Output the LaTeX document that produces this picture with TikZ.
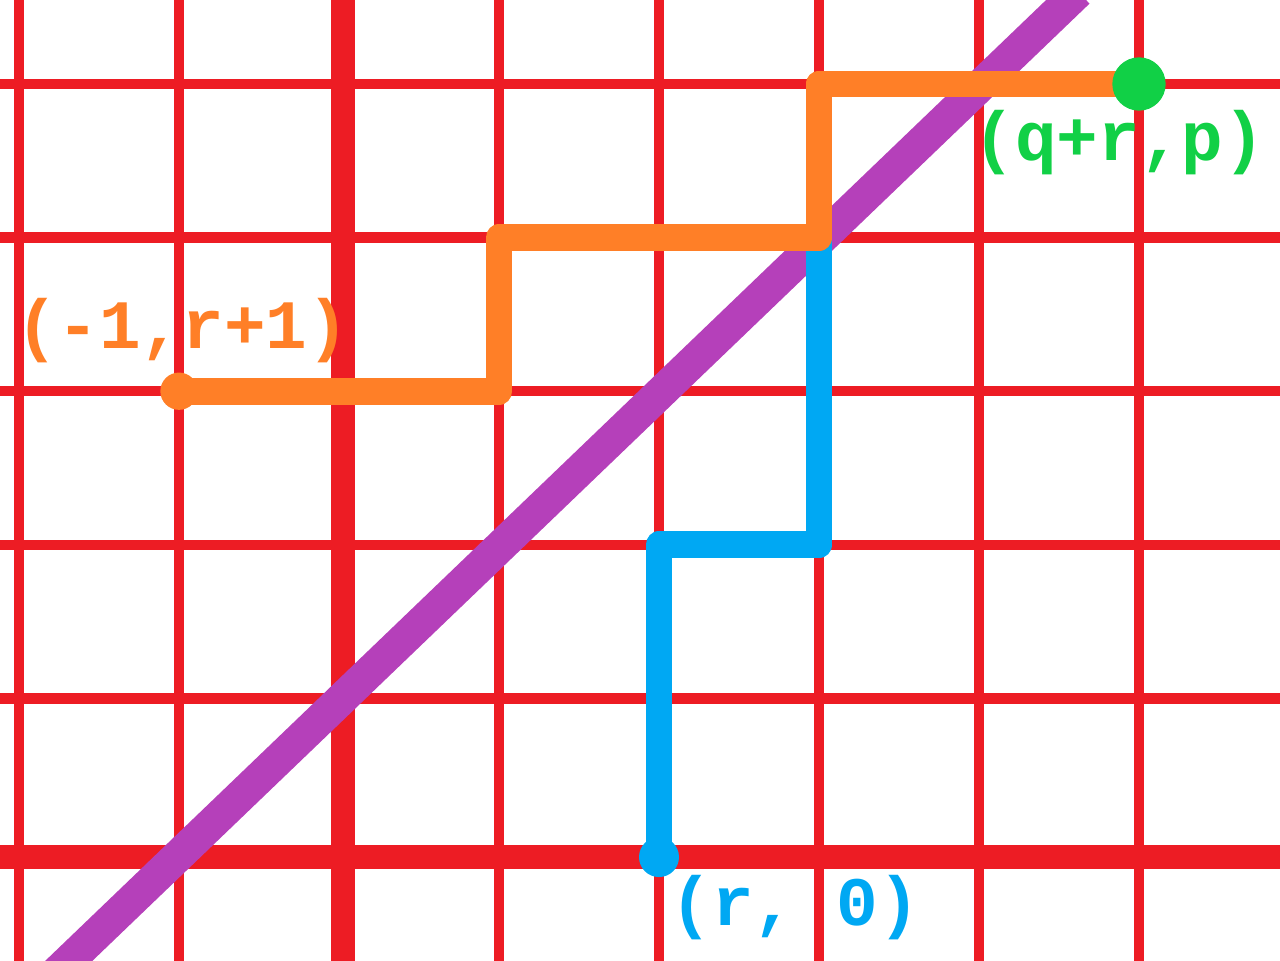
\documentclass[tikz,border=0pt]{standalone}
\usepackage{fontspec}
\newfontfamily\labelfont{Liberation Mono}

\definecolor{gridred}{RGB}{237,28,36}
\definecolor{diagpurple}{RGB}{181,64,186}
\definecolor{stairorange}{RGB}{255,127,39}
\definecolor{stairblue}{RGB}{0,168,243}
\definecolor{endgreen}{RGB}{17,208,70}

\tikzset{
    gridline/.style={gridred, line width=7.9pt},
    axisline/.style={gridred, line width=18pt},
    diagline/.style={diagpurple, line width=24.5pt},
    stairline/.style={line width=20pt, line cap=round, line join=round},
    ptlabel/.style={font=\labelfont\bfseries\fontsize{52}{52}\selectfont, anchor=west, inner sep=0pt},
}

\begin{document}
\begin{tikzpicture}[x=120pt, y=115.2pt]
    % frame of the picture
    \useasboundingbox (-2.11875,-0.703125) rectangle (5.88125,5.546875);
    \clip (-2.11875,-0.703125) rectangle (5.88125,5.546875);

    % Lattice
    \foreach \gx in {-2,-1,1,2,3,4,5}
        \draw[gridline] (\gx,-0.8) -- (\gx,5.6);
    \foreach \gy in {1,...,5}
        \draw[gridline] (-2.2,\gy) -- (5.9,\gy);
    % Axes
    \draw[axisline] (0.025,-0.8) -- (0.025,5.6);
    \draw[axisline] (-2.2,-0.033) -- (5.9,-0.033);

    % Diagonal y = x + 1
    \draw[diagline] (-1.78,-0.8) -- (4.62,5.6);

    % Corner points of the two staircases
    \coordinate (rzero) at (2,-0.033);
    \coordinate (bluebend) at (2,2);
    \coordinate (bluestep) at (3,2);
    \coordinate (meet) at (3,4);
    \coordinate (start) at (-1,3);
    \coordinate (orangestep) at (1,3);
    \coordinate (orangebend) at (1,4);
    \coordinate (topbend) at (3,5);
    \coordinate (finish) at (5,5);

    % Blue staircase from (r,0)
    \draw[stairline, stairblue] (rzero) -- (bluebend) -- (bluestep) -- (meet);
    \fill[stairblue] (rzero) circle (15pt);

    % Orange staircase from (-1,r+1)
    \draw[stairline, stairorange] (start) -- (orangestep) -- (orangebend) -- (meet) -- (topbend) -- (finish);
    \fill[stairorange] (start) circle (14pt);

    % End point
    \fill[endgreen] (finish) circle (20pt);

    % Labels
    \node[ptlabel, stairorange] (startlabel) at (-2.02,3.395) {(-1,r+1)};
    \node[ptlabel, endgreen] (finishlabel) at (3.965,4.62) {(q+r,p)};
    \node[ptlabel, stairblue] (rzerolabel) at (2.07,-0.36) {(r, 0)};
\end{tikzpicture}
\end{document}
